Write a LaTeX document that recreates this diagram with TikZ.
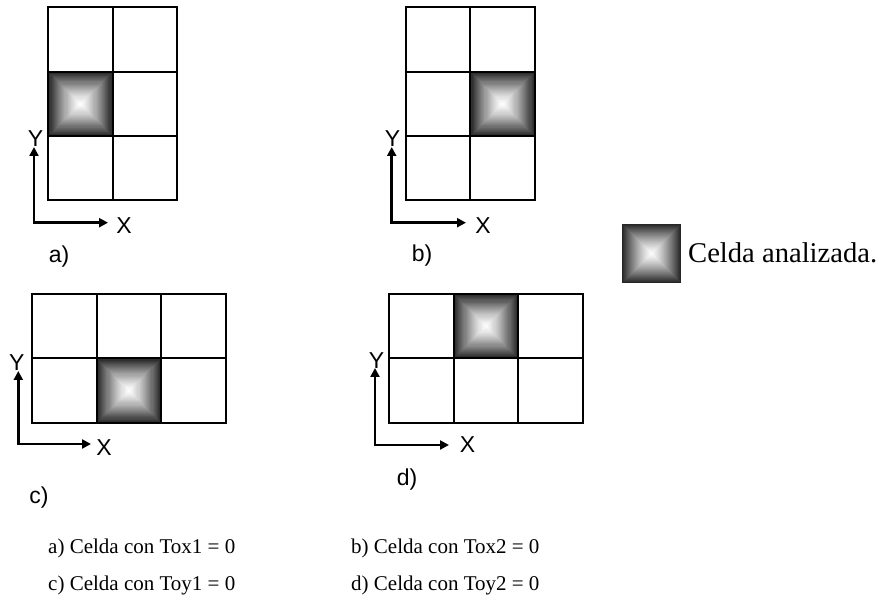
\documentclass[tikz,border=0pt]{standalone}
\usepackage{fontspec}
\setmainfont{Liberation Serif}
\newfontfamily\labfont{Liberation Sans}
\usetikzlibrary{arrows.meta}
\tikzset{
  gridline/.style={line width=2pt, black},
  axisline/.style={line width=2.6pt, black, {Triangle[length=9pt,width=9pt]}-{Triangle[length=9pt,width=9pt]}},
  axlab/.style={font=\labfont\fontsize{23}{23}\selectfont, inner sep=0pt},
  caption/.style={font=\fontsize{21}{21}\selectfont, inner sep=0pt, anchor=west},
  legendtext/.style={font=\fontsize{28.6}{28.6}\selectfont, inner sep=0pt, anchor=west}
}
\newcommand{\shadecell}[3]{%
  \foreach \i in {0,...,29}{%
    \pgfmathsetmacro{\dd}{\i*#3/60}%
    \pgfmathsetmacro{\gg}{85*(1-\i/30)^1.3}%
    \fill[black!\gg] (#1+\dd,#2+\dd) rectangle (#1+#3-\dd,#2+#3-\dd);
  }}
\newcommand{\cellgrid}[4]{%
  \foreach \cc in {1,...,#3}{%
    \foreach \rr in {1,...,#4}{%
      \draw[gridline] (#1+\cc*64.4-64.4,#2+\rr*64.4-64.4) rectangle (#1+\cc*64.4,#2+\rr*64.4);
    }}}
\begin{document}
\begin{tikzpicture}[x=1pt,y=-1pt]
\useasboundingbox (0,0) rectangle (881,601);
\fill[white] (0,0) rectangle (881,601);
% shaded cells
\shadecell{48.3}{71.7}{64.4}
\shadecell{470.4}{71.7}{64.4}
\shadecell{96.7}{358.4}{64.4}
\shadecell{453.7}{294}{64.4}
\shadecell{622}{224}{59}
% grids
\cellgrid{48.3}{7.3}{2}{3}
\cellgrid{406}{7.3}{2}{3}
\cellgrid{32.3}{294}{3}{2}
\cellgrid{389.3}{294}{3}{2}
% axes a
\coordinate (oa) at (34,222.7);
\coordinate (ya) at (34,147);
\coordinate (xa) at (108,222.7);
\draw[axisline] (ya) -- (oa) -- (xa);
\node[axlab] (Ya) at (35.5,139) {Y};
\node[axlab] (Xa) at (124,225.5) {X};
\node[axlab] (la) at (59,257) {a)};
% axes b
\coordinate (ob) at (391.7,222.7);
\coordinate (yb) at (391.7,147);
\coordinate (xb) at (466,222.7);
\draw[axisline] (yb) -- (ob) -- (xb);
\node[axlab] (Yb) at (392.5,139) {Y};
\node[axlab] (Xb) at (483,225.5) {X};
\node[axlab] (lb) at (422,256) {b)};
% axes c
\coordinate (oc) at (18.3,444);
\coordinate (yc) at (18.3,371);
\coordinate (xc) at (91,444);
\draw[axisline] (yc) -- (oc) -- (xc);
\node[axlab] (Yc) at (16.7,362.5) {Y};
\node[axlab] (Xc) at (104,448) {X};
\node[axlab] (lc) at (39,498) {c)};
% axes d
\coordinate (od) at (375,445);
\coordinate (yd) at (375,368);
\coordinate (xd) at (449,445);
\draw[axisline] (yd) -- (od) -- (xd);
\node[axlab] (Yd) at (376.5,360.5) {Y};
\node[axlab] (Xd) at (467.5,445) {X};
\node[axlab] (ld) at (407,480) {d)};
% legend
\node[legendtext] (leg) at (688,253) {Celda analizada.};
% captions
\node[caption] (ca) at (48,548) {a) Celda con Tox1 = 0};
\node[caption] (cb) at (351,548) {b) Celda con Tox2 = 0};
\node[caption] (cc) at (48,585) {c) Celda con Toy1 = 0};
\node[caption] (cd) at (351,585) {d) Celda con Toy2 = 0};
\end{tikzpicture}
\end{document}
